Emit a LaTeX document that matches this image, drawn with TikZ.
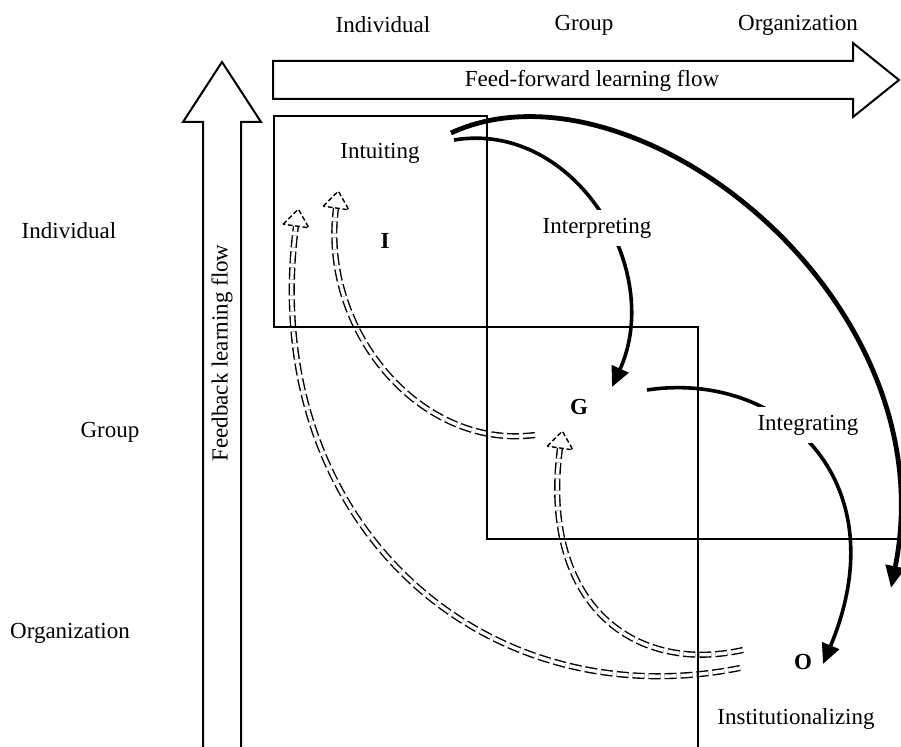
\documentclass[tikz,border=0pt]{standalone}
\usepackage{fontspec}
\setmainfont{Liberation Serif}
\usetikzlibrary{arrows.meta}
\begin{document}
\begin{tikzpicture}[x=0.5pt,y=-0.5pt,
  lbl/.style={font=\fontsize{11.5}{13}\selectfont, inner sep=1pt},
  boxline/.style={line width=1pt},
  bigarrow/.style={line width=1pt, line join=miter},
  flow/.style={line width=1.8pt, -{Triangle[length=10pt,width=9pt]}},
  flowthick/.style={line width=2.4pt, -{Triangle[length=11pt,width=9.5pt]}},
  fb/.style={line width=0.7pt, double=white, double distance=1.7pt, dash pattern=on 6pt off 2pt},
  fbtip/.style={line width=0.7pt, dash pattern=on 2.4pt off 1.3pt, fill=white, line join=miter},
]
\useasboundingbox (0,0) rectangle (901,747);

% feedback (dashed double) arrows
\coordinate (oa) at (740,668); \coordinate (ia) at (296,226);
\draw[fb] (oa) .. controls (480,720) and (258,520) .. (ia);
\draw[fbtip, shift={(ia)}, rotate=82] (0pt,6.5pt) -- (8.5pt,0pt) -- (0pt,-6.5pt) -- cycle;
\coordinate (ob) at (743,650); \coordinate (gb) at (560,448);
\draw[fb] (ob) .. controls (630,675) and (540,600) .. (gb);
\draw[fbtip, shift={(gb)}, rotate=82] (0pt,6.5pt) -- (8.5pt,0pt) -- (0pt,-6.5pt) -- cycle;
\coordinate (gc) at (535,435); \coordinate (ic) at (336,208);
\draw[fb] (gc) .. controls (420,450) and (320,330) .. (ic);
\draw[fbtip, shift={(ic)}, rotate=82] (0pt,6.5pt) -- (8.5pt,0pt) -- (0pt,-6.5pt) -- cycle;

% boxes
\draw[boxline] (274,116) rectangle (487,327);
\draw[boxline] (487,327) rectangle (698,539);
\draw[boxline] (698,747) -- (698,539) -- (901,539);

% big outline arrows
\draw[bigarrow] (203,747) -- (203,122) -- (183,122) -- (222,62) -- (261,122) -- (241,122) -- (241,747);
\draw[bigarrow] (273,61) -- (853,61) -- (853,43) -- (899,80) -- (853,117) -- (853,99) -- (273,99) -- cycle;

% feed-forward thick arrows
\coordinate (s1) at (451,133); \coordinate (e1) at (891,588);
\draw[flowthick] (s1) .. controls (630,50) and (950,295) .. (e1);
\coordinate (s2) at (454,140); \coordinate (e2) at (612,387);
\draw[flow] (s2) .. controls (575,120) and (665,270) .. (e2);
\coordinate (s3) at (647,390); \coordinate (e3) at (823,664);
\draw[flow] (s3) .. controls (780,370) and (900,480) .. (e3);

% labels
\node[lbl] (tind) at (383,25) {Individual};
\node[lbl] (tgrp) at (584,25) {Group};
\node[lbl] (torg) at (798,25) {Organization};
\node[lbl] (lind) at (69,231) {Individual};
\node[lbl] (lgrp) at (110,432) {Group};
\node[lbl] (lorg) at (70,633) {Organization};
\node[lbl] (ff) at (592,81) {Feed-forward learning flow};
\node[lbl, rotate=90] (fbl) at (222,353) {Feedback learning flow};
\node[lbl] (intu) at (380,153) {Intuiting};
\node[lbl] (I) at (385,241) {\bfseries I};
\node[lbl, fill=white, inner sep=4pt] (interp) at (597,228) {Interpreting};
\node[lbl] (G) at (579,407) {\bfseries G};
\node[lbl, fill=white, inner sep=4pt] (integ) at (808,425) {Integrating};
\node[lbl] (O) at (803,662) {\bfseries O};
\node[lbl] (inst) at (796,719) {Institutionalizing};
\end{tikzpicture}
\end{document}
